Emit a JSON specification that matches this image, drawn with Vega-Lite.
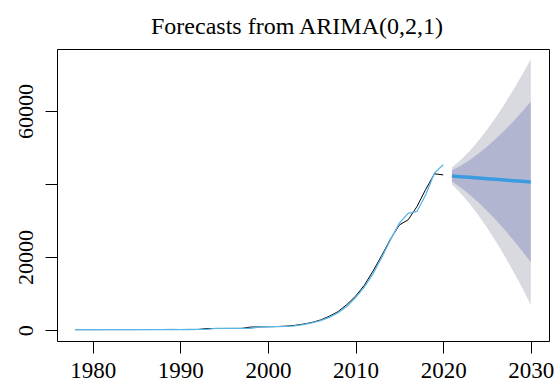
{
  "$schema": "https://vega.github.io/schema/vega-lite/v6.json",
  "width": 492,
  "height": 292,
  "autosize": {"type": "none"},
  "padding": {"left": 57, "top": 49, "right": 7, "bottom": 50},
  "background": "white",
  "title": {
    "text": "Forecasts from ARIMA(0,2,1)",
    "font": "Liberation Serif",
    "fontSize": 24,
    "fontWeight": "normal",
    "color": "black",
    "anchor": "middle",
    "frame": "group",
    "offset": 10,
    "dx": -6
  },
  "config": {
    "font": "Liberation Serif",
    "view": {"stroke": "black", "strokeWidth": 1},
    "axis": {
      "grid": false,
      "domain": false,
      "tickColor": "black",
      "tickSize": 12,
      "tickWidth": 1,
      "labelColor": "black",
      "labelFont": "Liberation Serif",
      "labelFontSize": 22,
      "title": null
    }
  },
  "datasets": {
    "hist": [
      {"year": 1978, "actual": 150, "fitted": 150},
      {"year": 1979, "actual": 150, "fitted": 150},
      {"year": 1980, "actual": 150, "fitted": 150},
      {"year": 1981, "actual": 155, "fitted": 150},
      {"year": 1982, "actual": 160, "fitted": 160},
      {"year": 1983, "actual": 160, "fitted": 165},
      {"year": 1984, "actual": 165, "fitted": 160},
      {"year": 1985, "actual": 170, "fitted": 170},
      {"year": 1986, "actual": 170, "fitted": 175},
      {"year": 1987, "actual": 175, "fitted": 170},
      {"year": 1988, "actual": 180, "fitted": 180},
      {"year": 1989, "actual": 180, "fitted": 185},
      {"year": 1990, "actual": 185, "fitted": 180},
      {"year": 1991, "actual": 190, "fitted": 190},
      {"year": 1992, "actual": 190, "fitted": 195},
      {"year": 1993, "actual": 450, "fitted": 200},
      {"year": 1994, "actual": 460, "fitted": 480},
      {"year": 1995, "actual": 470, "fitted": 470},
      {"year": 1996, "actual": 480, "fitted": 480},
      {"year": 1997, "actual": 490, "fitted": 490},
      {"year": 1998, "actual": 850, "fitted": 500},
      {"year": 1999, "actual": 900, "fitted": 880},
      {"year": 2000, "actual": 950, "fitted": 940},
      {"year": 2001, "actual": 1000, "fitted": 990},
      {"year": 2002, "actual": 1100, "fitted": 1050},
      {"year": 2003, "actual": 1300, "fitted": 1200},
      {"year": 2004, "actual": 1650, "fitted": 1500},
      {"year": 2005, "actual": 2100, "fitted": 2000},
      {"year": 2006, "actual": 2800, "fitted": 2600},
      {"year": 2007, "actual": 3800, "fitted": 3500},
      {"year": 2008, "actual": 5100, "fitted": 4800},
      {"year": 2009, "actual": 7000, "fitted": 6500},
      {"year": 2010, "actual": 9300, "fitted": 8900},
      {"year": 2011, "actual": 12300, "fitted": 11800},
      {"year": 2012, "actual": 16200, "fitted": 15500},
      {"year": 2013, "actual": 20500, "fitted": 20000},
      {"year": 2014, "actual": 25000, "fitted": 24800},
      {"year": 2015, "actual": 28800, "fitted": 29300},
      {"year": 2016, "actual": 30200, "fitted": 32000},
      {"year": 2017, "actual": 33800, "fitted": 32500},
      {"year": 2018, "actual": 38500, "fitted": 37000},
      {"year": 2019, "actual": 42800, "fitted": 43000},
      {"year": 2020, "actual": 42500, "fitted": 45300}
    ],
    "fc": [
      {"year": 2021, "mean": 42200, "lo80": 40693, "hi80": 43707, "lo95": 39896, "hi95": 44504},
      {"year": 2022, "mean": 42018, "lo80": 39050, "hi80": 44986, "lo95": 37479, "hi95": 46557},
      {"year": 2023, "mean": 41836, "lo80": 37151, "hi80": 46521, "lo95": 34671, "hi95": 49001},
      {"year": 2024, "mean": 41653, "lo80": 35039, "hi80": 48267, "lo95": 31538, "hi95": 51768},
      {"year": 2025, "mean": 41471, "lo80": 32718, "hi80": 50224, "lo95": 28085, "hi95": 54857},
      {"year": 2026, "mean": 41289, "lo80": 30216, "hi80": 52362, "lo95": 24355, "hi95": 58223},
      {"year": 2027, "mean": 41107, "lo80": 27548, "hi80": 54666, "lo95": 20371, "hi95": 61843},
      {"year": 2028, "mean": 40924, "lo80": 24713, "hi80": 57135, "lo95": 16133, "hi95": 65715},
      {"year": 2029, "mean": 40742, "lo80": 21729, "hi80": 59755, "lo95": 11666, "hi95": 69818},
      {"year": 2030, "mean": 40560, "lo80": 18594, "hi80": 62526, "lo95": 6968, "hi95": 74152}
    ]
  },
  "encoding": {
    "x": {
      "field": "year",
      "type": "quantitative",
      "scale": {"domain": [1975.92, 2032.08], "nice": false, "zero": false},
      "axis": {"values": [1980, 1990, 2000, 2010, 2020, 2030], "format": "d", "labelPadding": 6, "labelFlush": false, "labelFont": "Liberation Serif", "labelFontSize": 23}
    }
  },
  "layer": [
    {
      "data": {"name": "fc"},
      "mark": {"type": "area", "color": "#d9d9e0", "opacity": 1},
      "encoding": {
        "y": {
          "field": "lo95",
          "type": "quantitative",
          "scale": {"domain": [-2960, 76960], "nice": false, "zero": false},
          "axis": {
            "values": [0, 20000, 40000, 60000],
            "format": "d",
            "labelExpr": "datum.value == 40000 ? '' : datum.label",
            "labelFont": "Liberation Serif",
            "labelAngle": 270,
            "labelAlign": "center",
            "labelBaseline": "alphabetic",
            "labelPadding": 13,
            "labelFlush": false
          }
        },
        "y2": {"field": "hi95"}
      }
    },
    {
      "data": {"name": "fc"},
      "mark": {"type": "area", "color": "#b1b5d0", "opacity": 1},
      "encoding": {
        "y": {"field": "lo80", "type": "quantitative"},
        "y2": {"field": "hi80"}
      }
    },
    {
      "data": {"name": "hist"},
      "mark": {"type": "line", "color": "black", "strokeWidth": 1},
      "encoding": {"y": {"field": "actual", "type": "quantitative"}}
    },
    {
      "data": {"name": "hist"},
      "mark": {"type": "line", "color": "#5ab6e6", "strokeWidth": 1.3},
      "encoding": {"y": {"field": "fitted", "type": "quantitative"}}
    },
    {
      "data": {"name": "fc"},
      "mark": {"type": "line", "color": "#3b9be0", "strokeWidth": 3.5},
      "encoding": {"y": {"field": "mean", "type": "quantitative"}}
    }
  ]
}
